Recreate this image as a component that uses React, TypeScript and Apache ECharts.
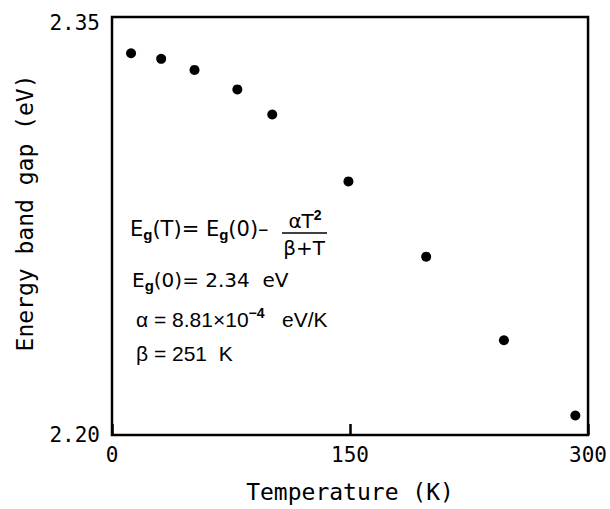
import React, { useEffect, useRef } from "react";
import * as echarts from "echarts";

const temperatures = [12, 31, 52, 79, 101, 149, 198, 247, 292];
const bandGap = [2.337, 2.335, 2.331, 2.324, 2.315, 2.291, 2.264, 2.234, 2.207];
const xTickValues = [0, 150, 300];
const yTickValues = [2.2, 2.35];
const xTitle = "Temperature (K)";
const yTitle = "Energy band gap (eV)";

const MONO = "DejaVu Sans Mono";
const SANS = "Liberation Sans";
const WIDE = "DejaVu Sans";

export default function App() {
  const ref = useRef<HTMLDivElement>(null);
  useEffect(() => {
    if (!ref.current) return;
    const chart = echarts.init(ref.current, null, { renderer: "svg" });
    const points = temperatures.map((t, i) => [t, bandGap[i]]);
    const base = { fontFamily: SANS, fontSize: 21, color: "#000", lineHeight: 26, verticalAlign: "middle" };
    const wide = { fontFamily: WIDE, fontSize: 20, color: "#000", lineHeight: 26, verticalAlign: "middle" };
    const wide2 = { fontFamily: WIDE, fontSize: 21, color: "#000", lineHeight: 26, verticalAlign: "middle" };
    const sub = { fontFamily: SANS, fontSize: 15, fontWeight: "bold", color: "#000", lineHeight: 14, verticalAlign: "bottom" };
    const sup = { fontFamily: SANS, fontSize: 14, fontWeight: "bold", color: "#000", lineHeight: 14, verticalAlign: "top" };
    const rich = { b: base, w: wide, v: wide2, s: sub, p: sup };
    chart.setOption({
      animation: false,
      grid: {
        left: 112,
        right: 20,
        top: 17,
        bottom: 74,
        show: true,
        borderColor: "#000",
        borderWidth: 2.5,
        backgroundColor: "#fff",
      },
      xAxis: {
        type: "value",
        min: xTickValues[0],
        max: xTickValues[xTickValues.length - 1],
        interval: 150,
        name: xTitle,
        nameLocation: "middle",
        nameGap: 45,
        nameTextStyle: { fontFamily: MONO, fontSize: 23, color: "#000" },
        axisLine: { show: false },
        axisTick: { show: true, inside: true, length: 11, lineStyle: { color: "#000", width: 2.5 } },
        splitLine: { show: false },
        axisLabel: { fontFamily: MONO, fontSize: 21, color: "#000", margin: 9 },
      },
      yAxis: {
        type: "value",
        min: yTickValues[0],
        max: yTickValues[yTickValues.length - 1],
        name: yTitle,
        nameLocation: "middle",
        nameGap: 76,
        nameTextStyle: { fontFamily: MONO, fontSize: 23, color: "#000", padding: [0, 0, 0, 26] },
        axisLine: { show: false },
        axisTick: { show: false },
        splitLine: { show: false },
        axisLabel: {
          customValues: yTickValues,
          fontFamily: MONO,
          fontSize: 21,
          color: "#000",
          margin: 12,
          formatter: (v: number) =>
            Math.abs(v - yTickValues[1]) < 1e-6 ? "{t|" + v.toFixed(2) + "}" : v.toFixed(2),
          rich: { t: { fontFamily: MONO, fontSize: 21, color: "#000", padding: [12, 0, 0, 0] } },
        },
      },
      graphic: [
        {
          type: "text",
          left: 130,
          top: 218,
          style: { text: "{v|E}{s|g}{v|(T)= E}{s|g}{v|(0)– }", rich },
        },
        {
          type: "text",
          x: 305,
          y: 221,
          style: { text: "{w|αT}{p|2}", rich, align: "center", verticalAlign: "middle" },
        },
        {
          type: "line",
          shape: { x1: 282, y1: 233, x2: 327, y2: 233 },
          style: { stroke: "#000", lineWidth: 1.5 },
        },
        {
          type: "text",
          x: 304,
          y: 248,
          style: { text: "{w|β+T}", rich, align: "center", verticalAlign: "middle" },
        },
        {
          type: "text",
          left: 132,
          top: 270,
          style: { text: "{w|E}{s|g}{w|(0)= 2.34  eV}", rich },
        },
        {
          type: "text",
          left: 136,
          top: 306,
          style: { text: "{b|α = 8.81×10}{p|−4}{b|   eV/K}", rich },
        },
        {
          type: "text",
          left: 136,
          top: 343,
          style: { text: "{b|β = 251  K}", rich },
        },
      ],
      series: [
        {
          type: "scatter",
          data: points,
          symbol: "circle",
          symbolSize: 10,
          itemStyle: { color: "#000", opacity: 1 },
        },
      ],
    });
    return () => chart.dispose();
  }, []);
  return <div ref={ref} style={{ width: 610, height: 509, position: "absolute", left: 0, top: 0, background: "#fff" }} />;
}
